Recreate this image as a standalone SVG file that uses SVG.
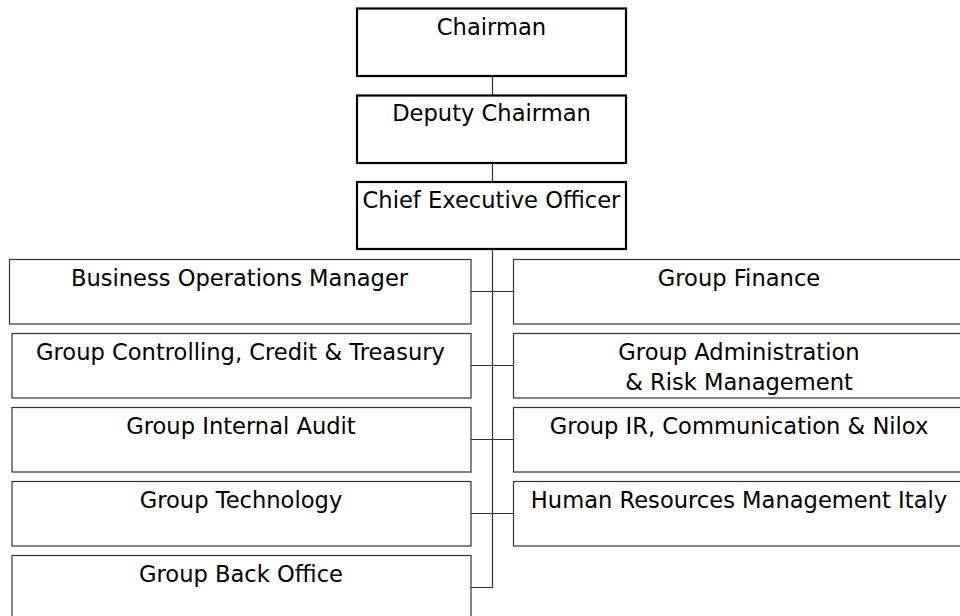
<svg xmlns="http://www.w3.org/2000/svg" width="960" height="616" viewBox="0 0 960 616">
<style>
.top{fill:#fff;stroke:#000;stroke-width:2.2}
.box{fill:#fff;stroke:#333;stroke-width:1.2}
.t{font-family:"DejaVu Sans",Verdana,sans-serif;font-size:22.6px;fill:#000;text-anchor:middle}
.c{fill:none;stroke:#333;stroke-width:1.2}
</style>
<rect width="960" height="616" fill="#fff"/>
<g id="connectors">
<line class="c" x1="492.5" y1="76" x2="492.5" y2="95"/>
<line class="c" x1="492.5" y1="163" x2="492.5" y2="182"/>
<polyline class="c" points="492.5,249 492.5,587.5 471,587.5"/>
<line class="c" x1="471" y1="291.5" x2="513" y2="291.5"/>
<line class="c" x1="471" y1="365.5" x2="513" y2="365.5"/>
<line class="c" x1="471" y1="439.5" x2="513" y2="439.5"/>
<line class="c" x1="471" y1="513.5" x2="513" y2="513.5"/>
</g>
<g id="chairman"><rect class="top" x="357" y="8.5" width="269" height="67.5"/><text class="t" x="491.5" y="35">Chairman</text></g>
<g id="deputy"><rect class="top" x="357" y="95.5" width="269" height="67.5"/><text class="t" x="491.5" y="121">Deputy Chairman</text></g>
<g id="ceo"><rect class="top" x="357" y="182" width="269" height="67"/><text class="t" x="491.5" y="208">Chief Executive Officer</text></g>
<g id="bom"><rect class="box" x="9.5" y="259.5" width="461.5" height="64.5"/><text class="t" x="239.5" y="286">Business Operations Manager</text></g>
<g id="gcct"><rect class="box" x="12" y="333.5" width="459" height="64.5"/><text class="t" x="240.5" y="360">Group Controlling, Credit &amp; Treasury</text></g>
<g id="gia"><rect class="box" x="12" y="407.5" width="459" height="64.5"/><text class="t" x="241" y="434">Group Internal Audit</text></g>
<g id="gt"><rect class="box" x="12" y="481.5" width="459" height="64.5"/><text class="t" x="241" y="508">Group Technology</text></g>
<g id="gbo"><rect class="box" x="12" y="555.5" width="459" height="64.5"/><text class="t" x="241" y="582">Group Back Office</text></g>
<g id="gf"><rect class="box" x="513.5" y="259.5" width="452" height="64.5"/><text class="t" x="739" y="286">Group Finance</text></g>
<g id="garm"><rect class="box" x="513.5" y="333.5" width="452" height="64.5"/><text class="t" x="739" y="360">Group Administration</text><text class="t" x="739" y="390">&amp; Risk Management</text></g>
<g id="gir"><rect class="box" x="513.5" y="407.5" width="452" height="64.5"/><text class="t" x="739" y="434">Group IR, Communication &amp; Nilox</text></g>
<g id="hr"><rect class="box" x="513.5" y="481.5" width="452" height="64.5"/><text class="t" x="739" y="508">Human Resources Management Italy</text></g>
</svg>
